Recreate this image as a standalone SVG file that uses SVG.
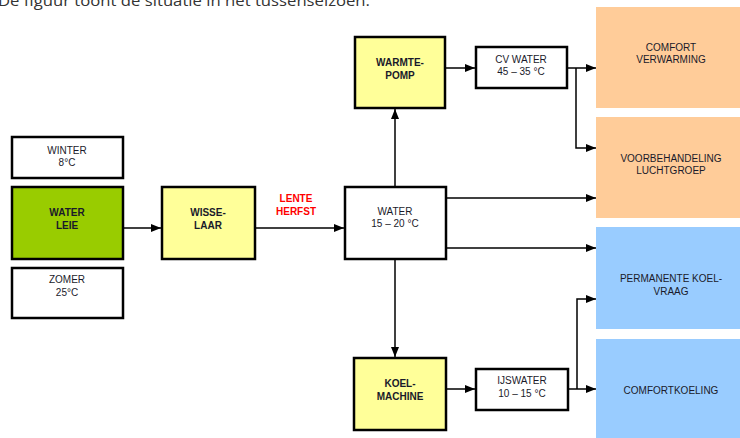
<svg xmlns="http://www.w3.org/2000/svg" width="740" height="438" viewBox="0 0 740 438">
<style>
.box{stroke:#000;stroke-width:2.5}
.w{fill:#fff}
.y{fill:#ffff99}
.g{fill:#99cc00}
.o{fill:#ffcc99}
.b{fill:#99ccff}
text{font-family:"Liberation Sans",Arial,sans-serif;font-size:10px;fill:#1a1a2a;text-anchor:middle}
.bd{font-weight:bold}
.red{fill:#ff0000;font-weight:bold}
.ln{stroke:#000;stroke-width:1.5;fill:none}
</style>
<defs>
<marker id="ah" markerWidth="10" markerHeight="8" refX="10" refY="4" orient="auto" markerUnits="userSpaceOnUse">
<path d="M0,0 L10,4 L0,8 Z" fill="#000"/>
</marker>
</defs>
<rect width="740" height="438" fill="#fff"/>
<text x="-2" y="6" textLength="372" lengthAdjust="spacingAndGlyphs" style="font-family:'Open Sans',sans-serif;font-size:14px;fill:#333;text-anchor:start">De figuur toont de situatie in het tussenseizoen.</text>

<g id="connectors">
<line class="ln" x1="123" y1="228" x2="161" y2="228" marker-end="url(#ah)"/>
<line class="ln" x1="255" y1="228" x2="344" y2="228" marker-end="url(#ah)"/>
<line class="ln" x1="395" y1="187" x2="395" y2="109" marker-end="url(#ah)"/>
<line class="ln" x1="395" y1="259" x2="395" y2="357" marker-end="url(#ah)"/>
<line class="ln" x1="445" y1="68" x2="475" y2="68" marker-end="url(#ah)"/>
<line class="ln" x1="567" y1="68" x2="596" y2="68" marker-end="url(#ah)"/>
<polyline class="ln" points="576,68 576,148 596,148" marker-end="url(#ah)"/>
<line class="ln" x1="446" y1="198" x2="596" y2="198" marker-end="url(#ah)"/>
<line class="ln" x1="446" y1="248" x2="596" y2="248" marker-end="url(#ah)"/>
<line class="ln" x1="446" y1="389" x2="475" y2="389" marker-end="url(#ah)"/>
<line class="ln" x1="568" y1="389" x2="596" y2="389" marker-end="url(#ah)"/>
<polyline class="ln" points="577,389 577,299 596,299" marker-end="url(#ah)"/>
</g>

<g id="winter"><rect class="box w" x="12" y="137" width="111" height="41"/><text x="67" y="154">WINTER</text><text x="67" y="166">8°C</text></g>
<g id="waterleie"><rect class="box g" x="12" y="187" width="111" height="72"/><text class="bd" x="67" y="216">WATER</text><text class="bd" x="67" y="229">LEIE</text></g>
<g id="zomer"><rect class="box w" x="12" y="268" width="111" height="50"/><text x="67" y="283">ZOMER</text><text x="67" y="296">25°C</text></g>
<g id="wisselaar"><rect class="box y" x="162" y="187" width="93" height="72"/><text class="bd" x="208" y="216">WISSE-</text><text class="bd" x="208" y="229">LAAR</text></g>
<g id="lenteherfst"><text class="red" x="296" y="202">LENTE</text><text class="red" x="296" y="215">HERFST</text></g>
<g id="water"><rect class="box w" x="345" y="187" width="101" height="72"/><text x="395" y="215">WATER</text><text x="395" y="227">15 – 20 °C</text></g>
<g id="warmtepomp"><rect class="box y" x="355" y="37" width="90" height="71"/><text class="bd" x="400" y="66">WARMTE-</text><text class="bd" x="400" y="79">POMP</text></g>
<g id="cvwater"><rect class="box w" x="476" y="47" width="91" height="41"/><text x="521" y="63">CV WATER</text><text x="521" y="75">45 – 35 °C</text></g>
<g id="koelmachine"><rect class="box y" x="354" y="358" width="92" height="72"/><text class="bd" x="400" y="387">KOEL-</text><text class="bd" x="400" y="400">MACHINE</text></g>
<g id="ijswater"><rect class="box w" x="476" y="369" width="92" height="41"/><text x="522" y="384">IJSWATER</text><text x="522" y="397">10 – 15 °C</text></g>
<g id="comfortverwarming"><rect class="o" x="596" y="7" width="144" height="101"/><text x="671" y="51">COMFORT</text><text x="671" y="63">VERWARMING</text></g>
<g id="voorbehandeling"><rect class="o" x="596" y="117" width="144" height="101"/><text x="671" y="162">VOORBEHANDELING</text><text x="671" y="174">LUCHTGROEP</text></g>
<g id="permanente"><rect class="b" x="596" y="227" width="144" height="102"/><text x="671" y="282">PERMANENTE KOEL-</text><text x="671" y="295">VRAAG</text></g>
<g id="comfortkoeling"><rect class="b" x="596" y="339" width="144" height="99"/><text x="671" y="394">COMFORTKOELING</text></g>
</svg>
